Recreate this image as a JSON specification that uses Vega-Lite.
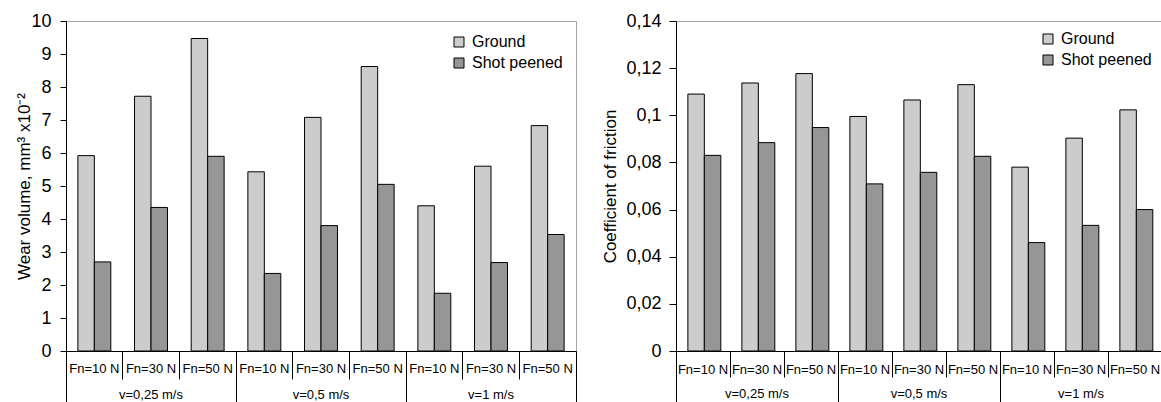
{
  "$schema": "https://vega.github.io/schema/vega-lite/v6.json",
  "padding": {"left": 15, "top": 11, "right": 0, "bottom": 0},
  "background": "white",
  "config": {
    "font": "Liberation Sans",
    "view": {"stroke": "#a6a6a6", "strokeWidth": 1},
    "axis": {"labelColor": "black", "titleColor": "black", "domainColor": "black", "tickColor": "black", "grid": false, "titleFontWeight": "normal"}
  },
  "spacing": 100,
  "bounds": "flush",
  "resolve": {"scale": {"color": "independent"}, "legend": {"color": "independent"}},
  "datasets": {
    "wear": [
      {"v": "v=0,25 m/s", "fn": "Fn=10 N", "cat": "v=0,25 m/s|Fn=10 N", "treat": "Ground", "value": 5.92},
      {"v": "v=0,25 m/s", "fn": "Fn=10 N", "cat": "v=0,25 m/s|Fn=10 N", "treat": "Shot peened", "value": 2.7},
      {"v": "v=0,25 m/s", "fn": "Fn=30 N", "cat": "v=0,25 m/s|Fn=30 N", "treat": "Ground", "value": 7.72},
      {"v": "v=0,25 m/s", "fn": "Fn=30 N", "cat": "v=0,25 m/s|Fn=30 N", "treat": "Shot peened", "value": 4.35},
      {"v": "v=0,25 m/s", "fn": "Fn=50 N", "cat": "v=0,25 m/s|Fn=50 N", "treat": "Ground", "value": 9.47},
      {"v": "v=0,25 m/s", "fn": "Fn=50 N", "cat": "v=0,25 m/s|Fn=50 N", "treat": "Shot peened", "value": 5.9},
      {"v": "v=0,5 m/s", "fn": "Fn=10 N", "cat": "v=0,5 m/s|Fn=10 N", "treat": "Ground", "value": 5.43},
      {"v": "v=0,5 m/s", "fn": "Fn=10 N", "cat": "v=0,5 m/s|Fn=10 N", "treat": "Shot peened", "value": 2.35},
      {"v": "v=0,5 m/s", "fn": "Fn=30 N", "cat": "v=0,5 m/s|Fn=30 N", "treat": "Ground", "value": 7.08},
      {"v": "v=0,5 m/s", "fn": "Fn=30 N", "cat": "v=0,5 m/s|Fn=30 N", "treat": "Shot peened", "value": 3.8},
      {"v": "v=0,5 m/s", "fn": "Fn=50 N", "cat": "v=0,5 m/s|Fn=50 N", "treat": "Ground", "value": 8.62},
      {"v": "v=0,5 m/s", "fn": "Fn=50 N", "cat": "v=0,5 m/s|Fn=50 N", "treat": "Shot peened", "value": 5.05},
      {"v": "v=1 m/s", "fn": "Fn=10 N", "cat": "v=1 m/s|Fn=10 N", "treat": "Ground", "value": 4.4},
      {"v": "v=1 m/s", "fn": "Fn=10 N", "cat": "v=1 m/s|Fn=10 N", "treat": "Shot peened", "value": 1.75},
      {"v": "v=1 m/s", "fn": "Fn=30 N", "cat": "v=1 m/s|Fn=30 N", "treat": "Ground", "value": 5.6},
      {"v": "v=1 m/s", "fn": "Fn=30 N", "cat": "v=1 m/s|Fn=30 N", "treat": "Shot peened", "value": 2.68},
      {"v": "v=1 m/s", "fn": "Fn=50 N", "cat": "v=1 m/s|Fn=50 N", "treat": "Ground", "value": 6.83},
      {"v": "v=1 m/s", "fn": "Fn=50 N", "cat": "v=1 m/s|Fn=50 N", "treat": "Shot peened", "value": 3.53}
    ],
    "cof": [
      {"v": "v=0,25 m/s", "fn": "Fn=10 N", "cat": "v=0,25 m/s|Fn=10 N", "treat": "Ground", "value": 0.109},
      {"v": "v=0,25 m/s", "fn": "Fn=10 N", "cat": "v=0,25 m/s|Fn=10 N", "treat": "Shot peened", "value": 0.083},
      {"v": "v=0,25 m/s", "fn": "Fn=30 N", "cat": "v=0,25 m/s|Fn=30 N", "treat": "Ground", "value": 0.1137},
      {"v": "v=0,25 m/s", "fn": "Fn=30 N", "cat": "v=0,25 m/s|Fn=30 N", "treat": "Shot peened", "value": 0.0884},
      {"v": "v=0,25 m/s", "fn": "Fn=50 N", "cat": "v=0,25 m/s|Fn=50 N", "treat": "Ground", "value": 0.1177},
      {"v": "v=0,25 m/s", "fn": "Fn=50 N", "cat": "v=0,25 m/s|Fn=50 N", "treat": "Shot peened", "value": 0.0948},
      {"v": "v=0,5 m/s", "fn": "Fn=10 N", "cat": "v=0,5 m/s|Fn=10 N", "treat": "Ground", "value": 0.0995},
      {"v": "v=0,5 m/s", "fn": "Fn=10 N", "cat": "v=0,5 m/s|Fn=10 N", "treat": "Shot peened", "value": 0.0709},
      {"v": "v=0,5 m/s", "fn": "Fn=30 N", "cat": "v=0,5 m/s|Fn=30 N", "treat": "Ground", "value": 0.1065},
      {"v": "v=0,5 m/s", "fn": "Fn=30 N", "cat": "v=0,5 m/s|Fn=30 N", "treat": "Shot peened", "value": 0.0758},
      {"v": "v=0,5 m/s", "fn": "Fn=50 N", "cat": "v=0,5 m/s|Fn=50 N", "treat": "Ground", "value": 0.113},
      {"v": "v=0,5 m/s", "fn": "Fn=50 N", "cat": "v=0,5 m/s|Fn=50 N", "treat": "Shot peened", "value": 0.0826},
      {"v": "v=1 m/s", "fn": "Fn=10 N", "cat": "v=1 m/s|Fn=10 N", "treat": "Ground", "value": 0.078},
      {"v": "v=1 m/s", "fn": "Fn=10 N", "cat": "v=1 m/s|Fn=10 N", "treat": "Shot peened", "value": 0.046},
      {"v": "v=1 m/s", "fn": "Fn=30 N", "cat": "v=1 m/s|Fn=30 N", "treat": "Ground", "value": 0.0903},
      {"v": "v=1 m/s", "fn": "Fn=30 N", "cat": "v=1 m/s|Fn=30 N", "treat": "Shot peened", "value": 0.0533},
      {"v": "v=1 m/s", "fn": "Fn=50 N", "cat": "v=1 m/s|Fn=50 N", "treat": "Ground", "value": 0.1023},
      {"v": "v=1 m/s", "fn": "Fn=50 N", "cat": "v=1 m/s|Fn=50 N", "treat": "Shot peened", "value": 0.06}
    ]
  },
  "hconcat": [
    {
      "width": 510,
      "height": 330,
      "data": {"name": "wear"},
      "resolve": {"axis": {"x": "independent"}},
      "layer": [
        {
          "mark": {"type": "bar", "stroke": "black", "strokeWidth": 1},
          "encoding": {
            "x": {"field": "cat", "type": "nominal", "sort": null, "scale": {"paddingInner": 0, "paddingOuter": 0},
              "axis": {"orient": "bottom", "title": null, "labelExpr": "split(datum.value,'|')[1]", "ticks": false, "tickSize": 0, "labelPadding": 11, "labelFontSize": 13, "labelAngle": 0, "labelOverlap": false, "domainColor": "black"}},
            "xOffset": {"field": "treat", "type": "nominal", "scale": {"paddingInner": 0, "paddingOuter": 0.72}},
            "y": {"field": "value", "type": "quantitative", "scale": {"domain": [0, 10], "nice": false},
              "axis": {"title": "Wear volume, mm³ x10⁻²", "titleFontSize": 17, "titlePadding": -3, "values": [0,1,2,3,4,5,6,7,8,9,10], "labelFontSize": 18, "tickSize": 6, "labelPadding": 9}},
            "color": {"field": "treat", "type": "nominal", "scale": {"domain": ["Ground", "Shot peened"], "range": ["#cccccc", "#969696"]},
              "legend": {"title": null, "orient": "top-right", "offset": 13, "padding": 0, "labelFontSize": 16, "symbolType": "square", "symbolSize": 100, "symbolStrokeColor": "black", "symbolStrokeWidth": 1, "rowPadding": 5, "labelOffset": 5}}
          }
        },
        {
          "mark": {"type": "rule", "opacity": 0},
          "encoding": {"x": {"field": "cat", "type": "nominal", "sort": null,
            "axis": {"orient": "bottom", "title": null, "labels": false, "domain": false, "ticks": true, "tickSize": 28, "bandPosition": 0, "tickColor": "black"}}}
        },
        {
          "mark": {"type": "rule", "opacity": 0},
          "encoding": {"x": {"field": "cat", "type": "nominal", "sort": null,
            "axis": {"orient": "bottom", "title": null, "labels": false, "domain": false, "ticks": true, "tickSize": 52, "bandPosition": 0, "tickColor": "black",
              "values": ["v=0,25 m/s|Fn=10 N", "v=0,5 m/s|Fn=10 N", "v=1 m/s|Fn=10 N"]}}}
        },
        {
          "mark": {"type": "rule", "opacity": 0},
          "encoding": {"x": {"field": "cat", "type": "nominal", "sort": null,
            "axis": {"orient": "bottom", "title": null, "labels": false, "domain": false, "ticks": true, "tickSize": 52, "bandPosition": 1, "tickColor": "black",
              "values": ["v=1 m/s|Fn=50 N"]}}}
        },
        {
          "mark": {"type": "rule", "opacity": 0},
          "encoding": {"x": {"field": "cat", "type": "nominal", "sort": null,
            "axis": {"orient": "bottom", "title": null, "labels": true, "domain": false, "ticks": false, "tickSize": 0, "labelPadding": 37, "labelFontSize": 13, "labelAngle": 0, "labelOverlap": false,
              "labelExpr": "split(datum.value,'|')[0]",
              "values": ["v=0,25 m/s|Fn=30 N", "v=0,5 m/s|Fn=30 N", "v=1 m/s|Fn=30 N"]}}}
        }
      ]
    },
    {
      "width": 486,
      "height": 330,
      "data": {"name": "cof"},
      "resolve": {"axis": {"x": "independent"}},
      "layer": [
        {
          "mark": {"type": "bar", "stroke": "black", "strokeWidth": 1},
          "encoding": {
            "x": {"field": "cat", "type": "nominal", "sort": null, "scale": {"paddingInner": 0, "paddingOuter": 0},
              "axis": {"orient": "bottom", "title": null, "labelExpr": "split(datum.value,'|')[1]", "ticks": false, "tickSize": 0, "labelPadding": 12, "labelFontSize": 13, "labelAngle": 0, "labelOverlap": false, "domainColor": "black"}},
            "xOffset": {"field": "treat", "type": "nominal", "scale": {"paddingInner": 0, "paddingOuter": 0.72}},
            "y": {"field": "value", "type": "quantitative", "scale": {"domain": [0, 0.14], "nice": false},
              "axis": {"title": "Coefficient of friction", "titleFontSize": 17, "titlePadding": 6, "values": [0, 0.02, 0.04, 0.06, 0.08, 0.1, 0.12, 0.14], "labelExpr": "replace(format(datum.value, '~g'), '.', ',')", "labelFontSize": 18, "tickSize": 7, "labelPadding": 8}},
            "color": {"field": "treat", "type": "nominal", "scale": {"domain": ["Ground", "Shot peened"], "range": ["#cccccc", "#969696"]},
              "legend": {"title": null, "orient": "top-right", "offset": 10, "padding": 0, "labelFontSize": 16, "symbolType": "square", "symbolSize": 100, "symbolStrokeColor": "black", "symbolStrokeWidth": 1, "rowPadding": 5, "labelOffset": 5}}
          }
        },
        {
          "mark": {"type": "rule", "opacity": 0},
          "encoding": {"x": {"field": "cat", "type": "nominal", "sort": null,
            "axis": {"orient": "bottom", "title": null, "labels": false, "domain": false, "ticks": true, "tickSize": 26, "bandPosition": 0, "tickColor": "black"}}}
        },
        {
          "mark": {"type": "rule", "opacity": 0},
          "encoding": {"x": {"field": "cat", "type": "nominal", "sort": null,
            "axis": {"orient": "bottom", "title": null, "labels": false, "domain": false, "ticks": true, "tickSize": 52, "bandPosition": 0, "tickColor": "black",
              "values": ["v=0,25 m/s|Fn=10 N", "v=0,5 m/s|Fn=10 N", "v=1 m/s|Fn=10 N"]}}}
        },
        {
          "mark": {"type": "rule", "opacity": 0},
          "encoding": {"x": {"field": "cat", "type": "nominal", "sort": null,
            "axis": {"orient": "bottom", "title": null, "labels": true, "domain": false, "ticks": false, "tickSize": 0, "labelPadding": 36, "labelFontSize": 13, "labelAngle": 0, "labelOverlap": false,
              "labelExpr": "split(datum.value,'|')[0]",
              "values": ["v=0,25 m/s|Fn=30 N", "v=0,5 m/s|Fn=30 N", "v=1 m/s|Fn=30 N"]}}}
        }
      ]
    }
  ]
}
